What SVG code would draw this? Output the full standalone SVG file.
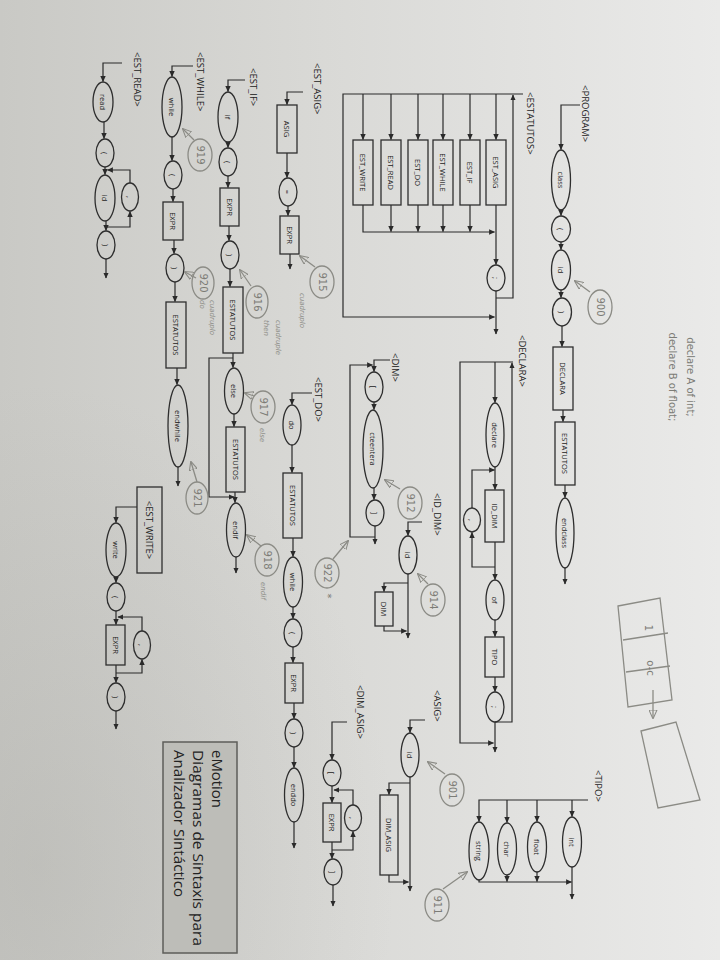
<svg xmlns="http://www.w3.org/2000/svg" width="720" height="960" viewBox="0 0 720 960">
<defs>
<linearGradient id="bg" x1="0" y1="0" x2="1" y2="0">
<stop offset="0" stop-color="#c9c9c5"/>
<stop offset="0.45" stop-color="#d9d9d6"/>
<stop offset="1" stop-color="#eaeae9"/>
</linearGradient>
<radialGradient id="sh" cx="0.05" cy="0.9" r="0.5">
<stop offset="0" stop-color="#a4a49f" stop-opacity="0.3"/>
<stop offset="1" stop-color="#a4a49f" stop-opacity="0"/>
</radialGradient>
<marker id="a" viewBox="0 0 10 10" refX="9" refY="5" markerWidth="6" markerHeight="6" markerUnits="userSpaceOnUse" orient="auto"><path d="M0,0.5 L10,5 L0,9.5 z" fill="#2a2a2a"/></marker>
<marker id="p" viewBox="0 0 10 10" refX="9" refY="5" markerWidth="9" markerHeight="9" markerUnits="userSpaceOnUse" orient="auto"><path d="M0,0.5 L10,5 L0,9.5 z" fill="none" stroke="#8b8b85" stroke-width="1.2"/></marker>
</defs>
<style>
.c{fill:none;stroke:#2a2a2a;stroke-width:1.2}
.s{fill:none;stroke:#2e2e2e;stroke-width:1.3}
.t{font-family:"Open Sans","Liberation Sans",sans-serif;font-size:7.5px;fill:#222;text-anchor:middle;dominant-baseline:central}
.l{font-family:"Open Sans","Liberation Sans",sans-serif;font-size:9.5px;fill:#222;dominant-baseline:central}
.h{fill:none;stroke:#8b8b85;stroke-width:1.3}
.ht{font-family:"DejaVu Sans",sans-serif;font-size:10px;fill:#7c7c76;text-anchor:middle;dominant-baseline:central}
.hs{font-family:"DejaVu Sans",sans-serif;font-size:7px;fill:#8f8f89;dominant-baseline:central;font-style:italic}
.em{font-family:"Open Sans","Liberation Sans",sans-serif;font-size:15px;fill:#222;dominant-baseline:central}
</style>
<rect width="720" height="960" fill="url(#bg)"/>
<rect width="720" height="960" fill="url(#sh)"/>

<g id="labels">
<text class="l" transform="translate(585 85) rotate(90)">&lt;PROGRAM&gt;</text>
<text class="l" transform="translate(530 92) rotate(90)">&lt;ESTATUTOS&gt;</text>
<text class="l" transform="translate(522 335) rotate(90)">&lt;DECLARA&gt;</text>
<text class="l" transform="translate(395 353) rotate(90)">&lt;DIM&gt;</text>
<text class="l" transform="translate(437 493) rotate(90)">&lt;ID_DIM&gt;</text>
<text class="l" transform="translate(437 690) rotate(90)">&lt;ASIG&gt;</text>
<text class="l" transform="translate(360 685) rotate(90)">&lt;DIM_ASIG&gt;</text>
<text class="l" transform="translate(598 770) rotate(90)">&lt;TIPO&gt;</text>
<text class="l" transform="translate(317 63) rotate(90)">&lt;EST_ASIG&gt;</text>
<text class="l" transform="translate(253 68) rotate(90)">&lt;EST_IF&gt;</text>
<text class="l" transform="translate(200 52) rotate(90)">&lt;EST_WHILE&gt;</text>
<text class="l" transform="translate(137 52) rotate(90)">&lt;EST_READ&gt;</text>
<text class="l" transform="translate(318 377) rotate(90)">&lt;EST_DO&gt;</text>
</g>

<g id="connectors" class="c">
<path d="M580,105 H561 V149.5" marker-end="url(#a)"/>
<path d="M561,210 V215.5" marker-end="url(#a)"/>
<path d="M561,242 V249.5" marker-end="url(#a)"/>
<path d="M561,290 V297.5" marker-end="url(#a)"/>
<path d="M562,326 V346.5" marker-end="url(#a)"/>
<path d="M563,410 V421.5" marker-end="url(#a)"/>
<path d="M565,485 V497.5" marker-end="url(#a)"/>
<path d="M565,568 V584" marker-end="url(#a)"/>
<path d="M523,94 H343 V317 H494.5" marker-end="url(#a)"/>
<path d="M363,94 V139.5" marker-end="url(#a)"/>
<path d="M391,94 V139.5" marker-end="url(#a)"/>
<path d="M418,94 V139.5" marker-end="url(#a)"/>
<path d="M443,94 V139.5" marker-end="url(#a)"/>
<path d="M470,94 V139.5" marker-end="url(#a)"/>
<path d="M496,94 V139.5" marker-end="url(#a)"/>
<path d="M363,205 V232 H494.5" marker-end="url(#a)"/>
<path d="M391,205 V231.5" marker-end="url(#a)"/>
<path d="M418,205 V231.5" marker-end="url(#a)"/>
<path d="M443,205 V231.5" marker-end="url(#a)"/>
<path d="M470,205 V231.5" marker-end="url(#a)"/>
<path d="M496,205 V264.5" marker-end="url(#a)"/>
<path d="M496,291 V334" marker-end="url(#a)"/>
<path d="M496,298 H513 V95" marker-end="url(#a)"/>
<path d="M513,362 H460 V743 H493.5" marker-end="url(#a)"/>
<path d="M495,362 V402.5" marker-end="url(#a)"/>
<path d="M495,467 V489.5" marker-end="url(#a)"/>
<path d="M495,542 V579.5" marker-end="url(#a)"/>
<path d="M495,567 H472 V532.5" marker-end="url(#a)"/>
<path d="M472,508 V470 H494.5" marker-end="url(#a)"/>
<path d="M495,620 V636.5" marker-end="url(#a)"/>
<path d="M495,677 V691.5" marker-end="url(#a)"/>
<path d="M495,722 V752" marker-end="url(#a)"/>
<path d="M495,722 H512 V363" marker-end="url(#a)"/>
<path d="M390,360 H374 V371.5" marker-end="url(#a)"/>
<path d="M374,402 V409.5" marker-end="url(#a)"/>
<path d="M374,488 V499.5" marker-end="url(#a)"/>
<path d="M375,526 V544" marker-end="url(#a)"/>
<path d="M375,537 H350 V365 H372.5" marker-end="url(#a)"/>
<path d="M422,522 H408 V535.5" marker-end="url(#a)"/>
<path d="M408,574 V638" marker-end="url(#a)"/>
<path d="M408,583 H384 V591.5" marker-end="url(#a)"/>
<path d="M384,626 V631 H406.5" marker-end="url(#a)"/>
<path d="M425,720 H410 V732.5" marker-end="url(#a)"/>
<path d="M410,777 V891" marker-end="url(#a)"/>
<path d="M410,783 H389 V794.5" marker-end="url(#a)"/>
<path d="M389,875 V882 H408.5" marker-end="url(#a)"/>
<path d="M347,722 H332 V759.5" marker-end="url(#a)"/>
<path d="M332,786 V802.5" marker-end="url(#a)"/>
<path d="M332,842 V858.5" marker-end="url(#a)"/>
<path d="M333,885 V906" marker-end="url(#a)"/>
<path d="M332,850 H353 V831.5" marker-end="url(#a)"/>
<path d="M353,805 V790 H334" marker-end="url(#a)"/>
<path d="M303,92 H287 V104.5" marker-end="url(#a)"/>
<path d="M287,153 V177.5" marker-end="url(#a)"/>
<path d="M288,206 V215.5" marker-end="url(#a)"/>
<path d="M290,254 V269" marker-end="url(#a)"/>
<path d="M245,80 H228 V91.5" marker-end="url(#a)"/>
<path d="M228,142 V147.5" marker-end="url(#a)"/>
<path d="M228,176 V187.5" marker-end="url(#a)"/>
<path d="M229,226 V240.5" marker-end="url(#a)"/>
<path d="M230,269 V286.5" marker-end="url(#a)"/>
<path d="M233,353 V367.5" marker-end="url(#a)"/>
<path d="M234,414 V426.5" marker-end="url(#a)"/>
<path d="M235,492 V502.5" marker-end="url(#a)"/>
<path d="M236,557 V573" marker-end="url(#a)"/>
<path d="M233,358 H209 V497 H234" marker-end="url(#a)"/>
<path d="M193,66 H172 V76.5" marker-end="url(#a)"/>
<path d="M172,137 V160.5" marker-end="url(#a)"/>
<path d="M173,189 V201.5" marker-end="url(#a)"/>
<path d="M174,240 V253.5" marker-end="url(#a)"/>
<path d="M175,282 V301.5" marker-end="url(#a)"/>
<path d="M177,368 V384.5" marker-end="url(#a)"/>
<path d="M178,467 V486" marker-end="url(#a)"/>
<path d="M122,63 H103 V81.5" marker-end="url(#a)"/>
<path d="M104,122 V138.5" marker-end="url(#a)"/>
<path d="M105,167 V174.5" marker-end="url(#a)"/>
<path d="M106,221 V230.5" marker-end="url(#a)"/>
<path d="M106,259 V278" marker-end="url(#a)"/>
<path d="M106,227 H130 V211.5" marker-end="url(#a)"/>
<path d="M130,183 V170 H107.5" marker-end="url(#a)"/>
<path d="M137,507 H116 V522.5" marker-end="url(#a)"/>
<path d="M116,577 V582.5" marker-end="url(#a)"/>
<path d="M116,611 V624.5" marker-end="url(#a)"/>
<path d="M116,665 V682.5" marker-end="url(#a)"/>
<path d="M116,711 V729" marker-end="url(#a)"/>
<path d="M116,673 H142 V659.5" marker-end="url(#a)"/>
<path d="M142,631 V617 H118" marker-end="url(#a)"/>
<path d="M312,393 H292 V404.5" marker-end="url(#a)"/>
<path d="M292,445 V472.5" marker-end="url(#a)"/>
<path d="M293,538 V556.5" marker-end="url(#a)"/>
<path d="M293,607 V618.5" marker-end="url(#a)"/>
<path d="M293,647 V662.5" marker-end="url(#a)"/>
<path d="M294,703 V718.5" marker-end="url(#a)"/>
<path d="M294,747 V767.5" marker-end="url(#a)"/>
<path d="M294,822 V848" marker-end="url(#a)"/>
<path d="M588,800 H479 V821.5" marker-end="url(#a)"/>
<path d="M572,800 V816.5" marker-end="url(#a)"/>
<path d="M537,800 V821.5" marker-end="url(#a)"/>
<path d="M507,800 V822.5" marker-end="url(#a)"/>
<path d="M479,880 V882 H571.5" marker-end="url(#a)"/>
<path d="M537,872 V881.5" marker-end="url(#a)"/>
<path d="M507,875 V881.5" marker-end="url(#a)"/>
<path d="M572,867 V899" marker-end="url(#a)"/>
</g>

<g id="prog_class"><ellipse class="s" cx="561" cy="180" rx="9.5" ry="30"/><text class="t" transform="translate(561 180) rotate(90)">class</text></g>
<g id="prog_lpar"><ellipse class="s" cx="561" cy="229" rx="9.5" ry="13"/><text class="t" transform="translate(561 229) rotate(90)">(</text></g>
<g id="prog_id"><ellipse class="s" cx="561" cy="270" rx="9.5" ry="20"/><text class="t" transform="translate(561 270) rotate(90)">id</text></g>
<g id="prog_rpar"><ellipse class="s" cx="562" cy="312" rx="9.5" ry="14"/><text class="t" transform="translate(562 312) rotate(90)">)</text></g>
<g id="prog_declara"><rect class="s" x="553" y="347" width="20" height="63"/><text class="t" transform="translate(563 378.5) rotate(90)">DECLARA</text></g>
<g id="prog_estatutos"><rect class="s" x="555" y="422" width="20" height="63"/><text class="t" transform="translate(565 453.5) rotate(90)">ESTATUTOS</text></g>
<g id="prog_endclass"><ellipse class="s" cx="565" cy="533" rx="9" ry="35"/><text class="t" transform="translate(565 533) rotate(90)">endclass</text></g>

<g id="est_write"><rect class="s" x="353" y="140" width="20" height="65"/><text class="t" transform="translate(363 172.5) rotate(90)">EST_WRITE</text></g>
<g id="est_read"><rect class="s" x="381" y="140" width="20" height="65"/><text class="t" transform="translate(391 172.5) rotate(90)">EST_READ</text></g>
<g id="est_do"><rect class="s" x="408" y="140" width="20" height="65"/><text class="t" transform="translate(418 172.5) rotate(90)">EST_DO</text></g>
<g id="est_while"><rect class="s" x="433" y="140" width="20" height="65"/><text class="t" transform="translate(443 172.5) rotate(90)">EST_WHILE</text></g>
<g id="est_if"><rect class="s" x="460" y="140" width="20" height="65"/><text class="t" transform="translate(470 172.5) rotate(90)">EST_IF</text></g>
<g id="est_asig"><rect class="s" x="486" y="140" width="20" height="65"/><text class="t" transform="translate(496 172.5) rotate(90)">EST_ASIG</text></g>
<g id="est_semi"><ellipse class="s" cx="496" cy="278" rx="9" ry="13"/><text class="t" transform="translate(496 278) rotate(90)">;</text></g>

<g id="dec_declare"><ellipse class="s" cx="495" cy="435" rx="9" ry="32"/><text class="t" transform="translate(495 435) rotate(90)">declare</text></g>
<g id="dec_iddim"><rect class="s" x="485" y="490" width="19" height="52"/><text class="t" transform="translate(494.5 516) rotate(90)">ID_DIM</text></g>
<g id="dec_comma"><ellipse class="s" cx="472" cy="520" rx="8.5" ry="12"/><text class="t" transform="translate(472 520) rotate(90)">,</text></g>
<g id="dec_of"><ellipse class="s" cx="495" cy="600" rx="9" ry="20"/><text class="t" transform="translate(495 600) rotate(90)">of</text></g>
<g id="dec_tipo"><rect class="s" x="485" y="637" width="19" height="40"/><text class="t" transform="translate(494.5 657) rotate(90)">TIPO</text></g>
<g id="dec_semi"><ellipse class="s" cx="495" cy="707" rx="9" ry="15"/><text class="t" transform="translate(495 707) rotate(90)">;</text></g>

<g id="dim_lb"><ellipse class="s" cx="374" cy="387" rx="9" ry="15"/><text class="t" transform="translate(374 387) rotate(90)">[</text></g>
<g id="dim_cte"><ellipse class="s" cx="373" cy="449" rx="10" ry="39"/><text class="t" transform="translate(373 449) rotate(90)">cteentera</text></g>
<g id="dim_rb"><ellipse class="s" cx="375" cy="513" rx="9" ry="13"/><text class="t" transform="translate(375 513) rotate(90)">]</text></g>

<g id="iddim_id"><ellipse class="s" cx="408" cy="555" rx="9" ry="19"/><text class="t" transform="translate(408 555) rotate(90)">id</text></g>
<g id="iddim_dim"><rect class="s" x="375" y="592" width="18" height="34"/><text class="t" transform="translate(384 609) rotate(90)">DIM</text></g>

<g id="asig_id"><ellipse class="s" cx="410" cy="755" rx="9" ry="22"/><text class="t" transform="translate(410 755) rotate(90)">id</text></g>
<g id="asig_dimasig"><rect class="s" x="380" y="795" width="18" height="80"/><text class="t" transform="translate(389 835) rotate(90)">DIM_ASIG</text></g>

<g id="da_lb"><ellipse class="s" cx="332" cy="773" rx="9" ry="13"/><text class="t" transform="translate(332 773) rotate(90)">[</text></g>
<g id="da_expr"><rect class="s" x="323" y="803" width="18" height="39"/><text class="t" transform="translate(332 822.5) rotate(90)">EXPR</text></g>
<g id="da_comma"><ellipse class="s" cx="353" cy="818" rx="8.5" ry="13"/><text class="t" transform="translate(353 818) rotate(90)">,</text></g>
<g id="da_rb"><ellipse class="s" cx="333" cy="872" rx="9" ry="13"/><text class="t" transform="translate(333 872) rotate(90)">]</text></g>

<g id="ea_asig"><rect class="s" x="277" y="105" width="20" height="48"/><text class="t" transform="translate(287 129) rotate(90)">ASIG</text></g>
<g id="ea_eq"><ellipse class="s" cx="288" cy="192" rx="9" ry="14"/><text class="t" transform="translate(288 192) rotate(90)">=</text></g>
<g id="ea_expr"><rect class="s" x="280" y="216" width="19" height="38"/><text class="t" transform="translate(289.5 235) rotate(90)">EXPR</text></g>

<g id="if_if"><ellipse class="s" cx="228" cy="117" rx="10" ry="25"/><text class="t" transform="translate(228 117) rotate(90)">if</text></g>
<g id="if_lp"><ellipse class="s" cx="228" cy="162" rx="9" ry="14"/><text class="t" transform="translate(228 162) rotate(90)">(</text></g>
<g id="if_expr"><rect class="s" x="220" y="188" width="19" height="38"/><text class="t" transform="translate(229.5 207) rotate(90)">EXPR</text></g>
<g id="if_rp"><ellipse class="s" cx="230" cy="255" rx="9" ry="14"/><text class="t" transform="translate(230 255) rotate(90)">)</text></g>
<g id="if_est1"><rect class="s" x="223" y="287" width="20" height="66"/><text class="t" transform="translate(233 320) rotate(90)">ESTATUTOS</text></g>
<g id="if_else"><ellipse class="s" cx="234" cy="391" rx="9.5" ry="23"/><text class="t" transform="translate(234 391) rotate(90)">else</text></g>
<g id="if_est2"><rect class="s" x="226" y="427" width="19" height="65"/><text class="t" transform="translate(235.5 459.5) rotate(90)">ESTATUTOS</text></g>
<g id="if_endif"><ellipse class="s" cx="236" cy="530" rx="9.5" ry="27"/><text class="t" transform="translate(236 530) rotate(90)">endif</text></g>

<g id="wh_while"><ellipse class="s" cx="172" cy="107" rx="10" ry="30"/><text class="t" transform="translate(172 107) rotate(90)">while</text></g>
<g id="wh_lp"><ellipse class="s" cx="173" cy="175" rx="9" ry="14"/><text class="t" transform="translate(173 175) rotate(90)">(</text></g>
<g id="wh_expr"><rect class="s" x="163" y="202" width="20" height="38"/><text class="t" transform="translate(173 221) rotate(90)">EXPR</text></g>
<g id="wh_rp"><ellipse class="s" cx="175" cy="268" rx="9" ry="14"/><text class="t" transform="translate(175 268) rotate(90)">)</text></g>
<g id="wh_est"><rect class="s" x="166" y="302" width="20" height="66"/><text class="t" transform="translate(176 335) rotate(90)">ESTATUTOS</text></g>
<g id="wh_endwhile"><ellipse class="s" cx="178" cy="426" rx="10" ry="41"/><text class="t" transform="translate(178 426) rotate(90)">endwhile</text></g>

<g id="rd_read"><ellipse class="s" cx="103" cy="102" rx="10" ry="20"/><text class="t" transform="translate(103 102) rotate(90)">read</text></g>
<g id="rd_lp"><ellipse class="s" cx="105" cy="153" rx="9" ry="14"/><text class="t" transform="translate(105 153) rotate(90)">(</text></g>
<g id="rd_id"><ellipse class="s" cx="105" cy="198" rx="10" ry="23"/><text class="t" transform="translate(105 198) rotate(90)">id</text></g>
<g id="rd_comma"><ellipse class="s" cx="130" cy="197" rx="8.5" ry="14"/><text class="t" transform="translate(130 197) rotate(90)">,</text></g>
<g id="rd_rp"><ellipse class="s" cx="106" cy="245" rx="9" ry="14"/><text class="t" transform="translate(106 245) rotate(90)">)</text></g>

<g id="wr_label"><rect class="s" x="137" y="487" width="25" height="86"/><text class="l" text-anchor="middle" transform="translate(149.5 530) rotate(90)">&lt;EST_WRITE&gt;</text></g>
<g id="wr_write"><ellipse class="s" cx="116" cy="550" rx="10" ry="27"/><text class="t" transform="translate(116 550) rotate(90)">write</text></g>
<g id="wr_lp"><ellipse class="s" cx="116" cy="597" rx="9" ry="14"/><text class="t" transform="translate(116 597) rotate(90)">(</text></g>
<g id="wr_expr"><rect class="s" x="106" y="625" width="19" height="40"/><text class="t" transform="translate(115.5 645) rotate(90)">EXPR</text></g>
<g id="wr_comma"><ellipse class="s" cx="142" cy="645" rx="8.5" ry="14"/><text class="t" transform="translate(142 645) rotate(90)">,</text></g>
<g id="wr_rp"><ellipse class="s" cx="116" cy="697" rx="9" ry="14"/><text class="t" transform="translate(116 697) rotate(90)">)</text></g>

<g id="do_do"><ellipse class="s" cx="292" cy="425" rx="9" ry="20"/><text class="t" transform="translate(292 425) rotate(90)">do</text></g>
<g id="do_est"><rect class="s" x="283" y="473" width="19" height="65"/><text class="t" transform="translate(292.5 505.5) rotate(90)">ESTATUTOS</text></g>
<g id="do_while"><ellipse class="s" cx="293" cy="582" rx="9.5" ry="25"/><text class="t" transform="translate(293 582) rotate(90)">while</text></g>
<g id="do_lp"><ellipse class="s" cx="293" cy="633" rx="9" ry="14"/><text class="t" transform="translate(293 633) rotate(90)">(</text></g>
<g id="do_expr"><rect class="s" x="285" y="663" width="18" height="40"/><text class="t" transform="translate(294 683) rotate(90)">EXPR</text></g>
<g id="do_rp"><ellipse class="s" cx="294" cy="733" rx="9" ry="14"/><text class="t" transform="translate(294 733) rotate(90)">)</text></g>
<g id="do_enddo"><ellipse class="s" cx="294" cy="795" rx="9.5" ry="27"/><text class="t" transform="translate(294 795) rotate(90)">enddo</text></g>

<g id="tipo_int"><ellipse class="s" cx="572" cy="842" rx="9.5" ry="25"/><text class="t" transform="translate(572 842) rotate(90)">int</text></g>
<g id="tipo_float"><ellipse class="s" cx="537" cy="847" rx="9.5" ry="25"/><text class="t" transform="translate(537 847) rotate(90)">float</text></g>
<g id="tipo_char"><ellipse class="s" cx="507" cy="849" rx="9.5" ry="26"/><text class="t" transform="translate(507 849) rotate(90)">char</text></g>
<g id="tipo_string"><ellipse class="s" cx="479" cy="851" rx="10" ry="29"/><text class="t" transform="translate(479 851) rotate(90)">string</text></g>

<g id="title">
<rect x="163" y="742" width="74" height="211" fill="#bdbdb8" stroke="#5e5e5a" stroke-width="1.5"/>
<text class="em" transform="translate(218 750) rotate(90)" textLength="58" lengthAdjust="spacingAndGlyphs">eMotion</text>
<text class="em" transform="translate(199 750) rotate(90)" textLength="196" lengthAdjust="spacingAndGlyphs">Diagramas de Sintaxis para</text>
<text class="em" transform="translate(180 750) rotate(90)" textLength="147" lengthAdjust="spacingAndGlyphs">Analizador Sintáctico</text>
</g>

<g id="notes">
<ellipse class="h" cx="600" cy="307" rx="12" ry="17"/><text class="ht" transform="translate(600 307) rotate(90)">900</text>
<path class="h" d="M590,292 L575,281" marker-end="url(#p)"/>
<text class="ht" font-size="11" text-anchor="start" transform="translate(690 377) rotate(90)">declare A of int;</text>
<text class="ht" font-size="11" text-anchor="start" transform="translate(672 377) rotate(90)">declare B of float;</text>
<path class="h" d="M618,606 L660,598 L672,700 L628,707 Z M623,640 L668,633 M626,672 L670,666"/>
<text class="ht" transform="translate(648 628) rotate(90)">1</text>
<text class="ht" transform="translate(650 668) rotate(90)">o-c</text>
<path class="h" d="M653,690 V718" marker-end="url(#p)"/>
<path class="h" d="M641,731 L676,722 L700,800 L658,808 Z"/>
<ellipse class="h" cx="452" cy="790" rx="12" ry="16"/><text class="ht" transform="translate(452 790) rotate(90)">901</text>
<path class="h" d="M445,774 L428,762" marker-end="url(#p)"/>
<ellipse class="h" cx="437" cy="905" rx="12" ry="16"/><text class="ht" transform="translate(437 905) rotate(90)">911</text>
<path class="h" d="M443,889 L467,872" marker-end="url(#p)"/>
<ellipse class="h" cx="433" cy="600" rx="12" ry="16"/><text class="ht" transform="translate(433 600) rotate(90)">914</text>
<path class="h" d="M428,584 L418,574" marker-end="url(#p)"/>
<ellipse class="h" cx="410" cy="503" rx="12" ry="16"/><text class="ht" transform="translate(410 503) rotate(90)">912</text>
<path class="h" d="M400,489 L385,480" marker-end="url(#p)"/>
<ellipse class="h" cx="322" cy="282" rx="12" ry="16"/><text class="ht" transform="translate(322 282) rotate(90)">915</text>
<path class="h" d="M315,267 L300,256" marker-end="url(#p)"/>
<text class="hs" transform="translate(302 293) rotate(90)">cuadruplo</text>
<ellipse class="h" cx="257" cy="302" rx="11" ry="16"/><text class="ht" transform="translate(257 302) rotate(90)">916</text>
<path class="h" d="M251,286 L240,270" marker-end="url(#p)"/>
<text class="hs" transform="translate(278 320) rotate(90)">cuadruple</text>
<text class="hs" transform="translate(266 320) rotate(90)">then</text>
<ellipse class="h" cx="263" cy="407" rx="12" ry="16"/><text class="ht" transform="translate(263 407) rotate(90)">917</text>
<path class="h" d="M254,396 L245,393" marker-end="url(#p)"/>
<text class="hs" transform="translate(262 428) rotate(90)">else</text>
<ellipse class="h" cx="267" cy="560" rx="12" ry="16"/><text class="ht" transform="translate(267 560) rotate(90)">918</text>
<path class="h" d="M261,546 L247,535" marker-end="url(#p)"/>
<text class="hs" transform="translate(263 582) rotate(90)">endif</text>
<ellipse class="h" cx="200" cy="155" rx="12" ry="16"/><text class="ht" transform="translate(200 155) rotate(90)">919</text>
<path class="h" d="M194,140 L183,129" marker-end="url(#p)"/>
<ellipse class="h" cx="203" cy="283" rx="11" ry="16"/><text class="ht" transform="translate(203 283) rotate(90)">920</text>
<path class="h" d="M196,278 L185,272" marker-end="url(#p)"/>
<text class="hs" transform="translate(212 300) rotate(90)">cuadruplo</text>
<text class="hs" transform="translate(202 300) rotate(90)">do</text>
<ellipse class="h" cx="197" cy="498" rx="11" ry="16"/><text class="ht" transform="translate(197 498) rotate(90)">921</text>
<path class="h" d="M197,482 L191,462" marker-end="url(#p)"/>
<ellipse class="h" cx="327" cy="573" rx="12" ry="15"/><text class="ht" transform="translate(327 573) rotate(90)">922</text>
<path class="h" d="M333,559 L348,541" marker-end="url(#p)"/>
<text class="ht" transform="translate(327 596) rotate(90)">*</text>
</g>
</svg>
